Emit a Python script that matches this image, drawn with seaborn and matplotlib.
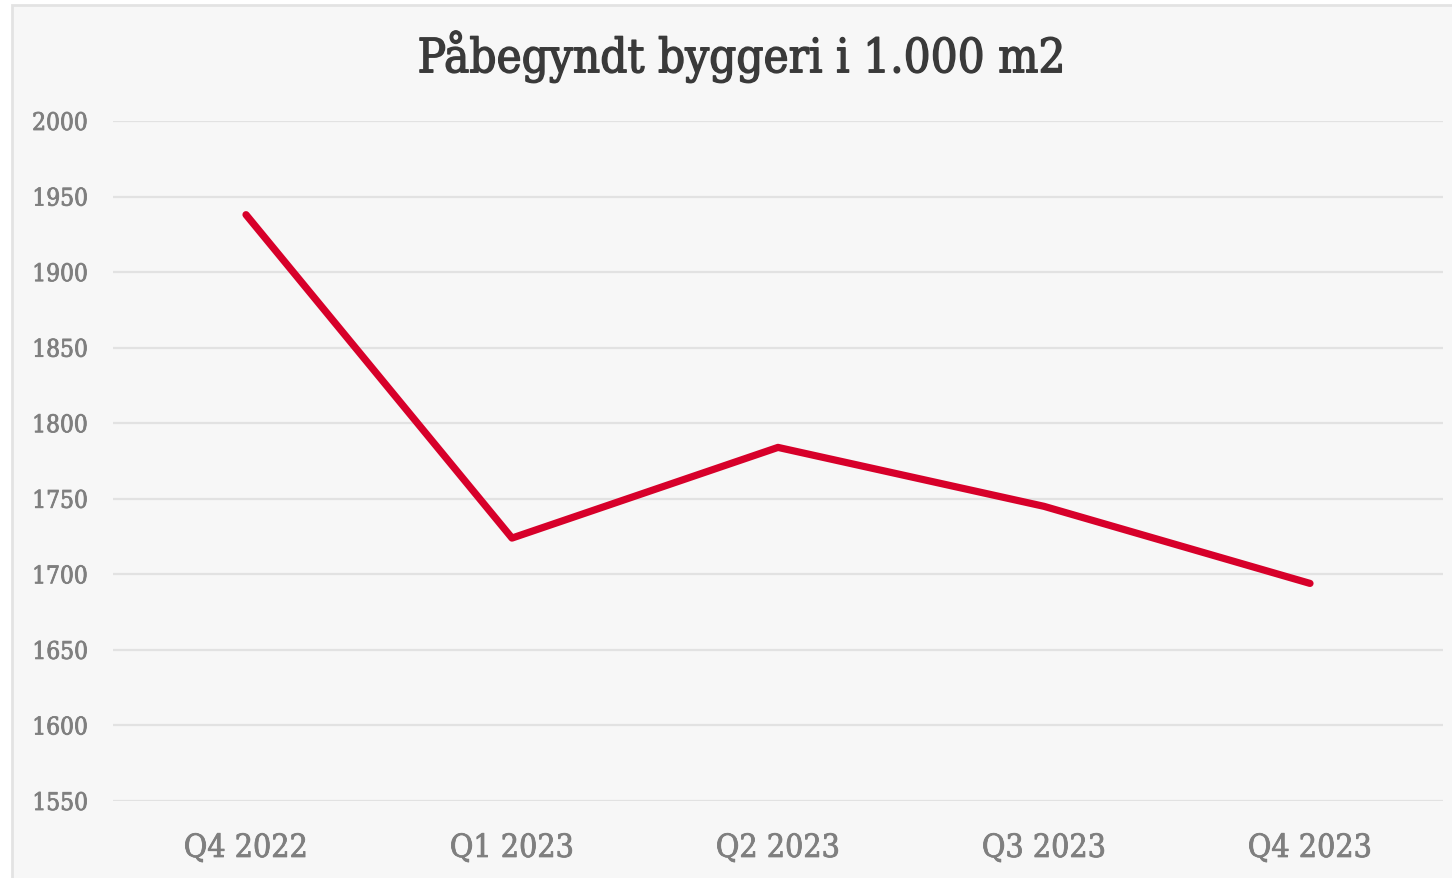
import pandas as pd
import matplotlib.pyplot as plt
import matplotlib.patheffects as pe
import seaborn as sns
from matplotlib.patches import Rectangle

# quarters and started construction (1.000 m2)
quarters = ["Q4 2022", "Q1 2023", "Q2 2023", "Q3 2023", "Q4 2023"]
values = [1938, 1724, 1784, 1745, 1694]
yticks = [1550, 1600, 1650, 1700, 1750, 1800, 1850, 1900, 1950, 2000]

df = pd.DataFrame({"Kvartal": quarters, "m2": values})

sns.set_theme(style="white")
plt.rcParams['font.family'] = ['DejaVu Serif']

fig = plt.figure(figsize=(14.52, 8.79), dpi=100)
fig.patch.set_facecolor("white")
# light grey card behind the chart
fig.patches.append(Rectangle((12 / 1452, -0.01), 1.0, 1 - 6 / 879 + 0.01,
                             transform=fig.transFigure, facecolor="#f7f7f7",
                             edgecolor="#e3e3e3", linewidth=2, zorder=-5))

ax = fig.add_axes([113 / 1452, 1 - 802 / 879, 1330 / 1452, 680 / 879])
ax.set_zorder(2)
ax.set_facecolor("none")

sns.lineplot(x="Kvartal", y="m2", data=df, ax=ax, color="#d7002a",
             linewidth=5.2, solid_capstyle="round", solid_joinstyle="round")

ax.set_xlim(-0.5, len(quarters) - 0.5)
ax.set_ylim(yticks[0], yticks[-1])
ax.set_yticks(yticks)
ax.grid(axis="y", color="#e2e2e2", linewidth=1.6)
ax.set_axisbelow(True)
for s in ax.spines.values():
    s.set_visible(False)
ax.set_xlabel("")
ax.set_ylabel("")
ax.tick_params(axis="y", length=0, pad=18, labelsize=17.5, labelcolor="#7f7f7f")
ax.tick_params(axis="x", length=0, pad=23, labelsize=23, labelcolor="#7f7f7f")
for lab in ax.get_xticklabels() + ax.get_yticklabels():
    lab.set_fontstretch("condensed")
    lab.set_path_effects([pe.withStroke(linewidth=0.6, foreground="#7f7f7f")])

fig.text(742 / 1452, 1 - 58 / 879, "Påbegyndt byggeri i 1.000 m2",
         ha="center", va="center", fontsize=34, color="#3a3a3a",
         fontstretch="condensed",
         path_effects=[pe.withStroke(linewidth=1.0, foreground="#3a3a3a")])

fig.savefig("out.png", dpi=100, facecolor=fig.get_facecolor())
